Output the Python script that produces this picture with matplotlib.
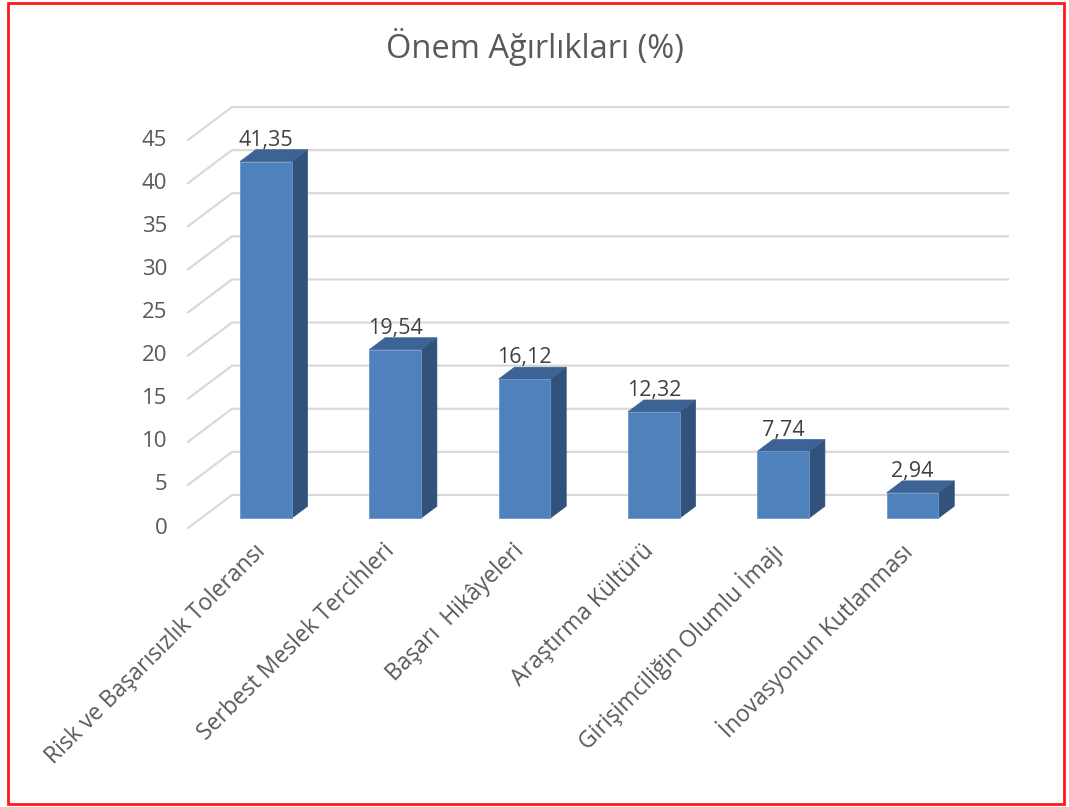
import numpy as np
import matplotlib.pyplot as plt
from matplotlib.patches import Polygon, Rectangle

# data
categories = ['Risk ve Başarısızlık Toleransı', 'Serbest Meslek Tercihleri',
              'Başarı  Hikâyeleri', 'Araştırma Kültürü',
              'Girişimciliğin Olumlu İmajı', 'İnovasyonun Kutlanması']
values = [41.35, 19.54, 16.12, 12.32, 7.74, 2.94]
yticks = [0, 5, 10, 15, 20, 25, 30, 35, 40, 45]

plt.rcParams['font.family'] = ['Open Sans', 'DejaVu Sans']
txt = '#595959'

# depth of the 3d box (category units, value units)
DX, DY = 0.34, 3.83
f0, f1 = 0.30, 0.66   # front / back plane of the bars inside the depth
bw = 0.40

fig = plt.figure(figsize=(10.69, 8.07), dpi=100)
ax = fig.add_axes([188/1069, (807-528)/807, 820/1069, (528-107)/807])
ax.set_xlim(-0.5, len(categories) - 0.5 + DX)
ax.set_ylim(0, 45 + DY)
ax.axis('off')

# gridlines: diagonal on the floor side + horizontal on the back wall
for t in yticks:
    ax.plot([-0.5, -0.5 + DX, len(categories) - 0.5 + DX], [t, t + DY, t + DY],
            color='#d9d9d9', lw=1.6, zorder=1, clip_on=False)
    ax.text(-0.66, t, str(t), ha='right', va='center', fontsize=16,
            color=txt, clip_on=False)

front = '#4f81bd'
top = '#3c6394'
side = '#31527a'
for i, v in enumerate(values):
    x0 = i - bw/2 + f0*DX
    x1 = i + bw/2 + f0*DX
    y0 = f0*DY
    ddx = (f1 - f0)*DX
    ddy = (f1 - f0)*DY
    ax.add_patch(Polygon([(x1, y0), (x1 + ddx, y0 + ddy), (x1 + ddx, v + y0 + ddy), (x1, v + y0)],
                         closed=True, fc=side, ec=side, lw=0.5, zorder=3))
    ax.add_patch(Polygon([(x0, v + y0), (x1, v + y0), (x1 + ddx, v + y0 + ddy), (x0 + ddx, v + y0 + ddy)],
                         closed=True, fc=top, ec=top, lw=0.5, zorder=3))
    ax.add_patch(Rectangle((x0, y0), bw, v, fc=front, ec='#6f97c9', lw=0.6, zorder=4))
    ax.text(i + f0*DX, v + f1*DY + 0.45, f'{v:.2f}'.replace('.', ','), ha='center',
            va='baseline', fontsize=15.5, color='#404040', clip_on=False)
    ax.text(i + f0*DX - 0.03, -2.3, categories[i], rotation=45, rotation_mode='anchor',
            ha='right', va='center', fontsize=16.5, color=txt, clip_on=False)

fig.text(0.5, 1 - 47/807, 'Önem Ağırlıkları (%)', ha='center', va='center',
         fontsize=23.5, color=txt)

fig.add_artist(Rectangle((8/1069, 3/807), 1056/1069, 801/807, transform=fig.transFigure,
                         fill=False, ec='#ff1a1a', lw=2))

plt.savefig('out.png', dpi=100)
